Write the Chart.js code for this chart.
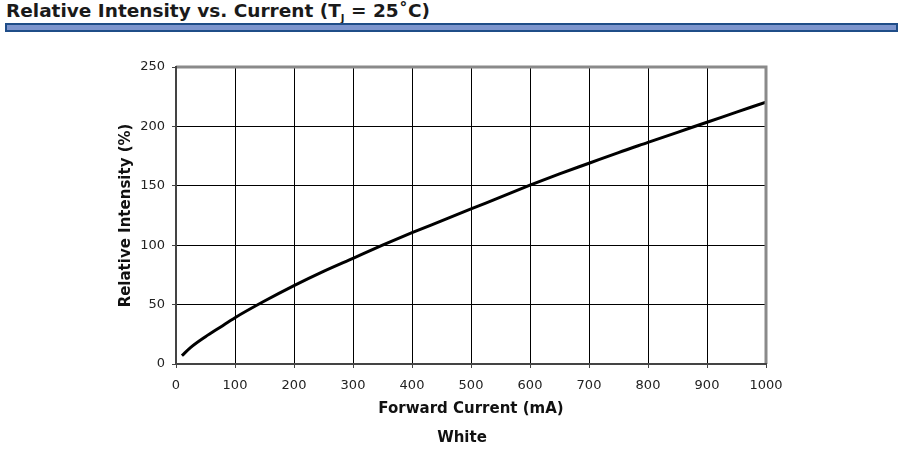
<!DOCTYPE html>
<html lang="en">
<head>
    <meta charset="UTF-8">
    <title>Relative Intensity vs. Current</title>
    <script src="https://cdn.jsdelivr.net/npm/chart.js"></script>
    <style>
        body{margin:0;width:908px;height:460px;background:#fff;position:relative;overflow:hidden;font-family:'DejaVu Sans',Verdana,sans-serif;}
        .title{position:absolute;left:6px;top:0px;font-size:18.5px;font-weight:bold;color:#1a1a1a;white-space:nowrap;}
        .title sub{font-size:10px;}
        .bar{position:absolute;left:5px;top:23px;width:889px;height:5px;background:#7d95cd;border:2px solid #1f4d88;}
        #chart-wrap{position:absolute;left:0;top:0;width:908px;height:460px;}
        .series-name{position:absolute;left:0;width:924px;top:428px;text-align:center;font-size:15px;font-weight:bold;color:#111;}
    </style>
</head>
<body>
    <div class="title">Relative Intensity vs. Current (T<sub>J</sub> = 25&#730;C)</div>
    <div class="bar"></div>
    <div id="chart-wrap"><canvas id="intensity-chart" width="908" height="460"></canvas></div>
    <div class="series-name">White</div>
    <script>
        // values
        const currentMA = [10, 25, 50, 75, 100, 150, 200, 250, 300, 350, 400, 450, 500, 550, 600, 650, 700, 750, 800, 850, 900, 950, 1000];
        const intensityPct = [7, 14, 23, 31, 39, 53, 66, 78, 89, 100, 110.5, 120.5, 130.5, 140.5, 150.5, 160, 169, 178, 186.5, 195, 203.5, 212, 220.5];
        const xTicks = [0, 100, 200, 300, 400, 500, 600, 700, 800, 900, 1000];
        const yTicks = [0, 50, 100, 150, 200, 250];

        const tickFont = { family: "'DejaVu Sans', sans-serif", size: 13 };
        const titleFont = { family: "'DejaVu Sans', sans-serif", size: 15, weight: 'bold' };

        // grey frame round the plot area, dark spines on left/bottom
        const frame = {
            id: 'frame',
            afterDatasetsDraw(chart) {
                const { ctx, chartArea: a } = chart;
                ctx.save();
                ctx.strokeStyle = '#8a8a8a';
                ctx.lineWidth = 3;
                ctx.beginPath();
                ctx.moveTo(a.left, a.top);
                ctx.lineTo(a.right, a.top);
                ctx.lineTo(a.right, a.bottom);
                ctx.stroke();
                ctx.strokeStyle = '#444';
                ctx.lineWidth = 2;
                ctx.beginPath();
                ctx.moveTo(a.left, a.top - 1);
                ctx.lineTo(a.left, a.bottom);
                ctx.lineTo(a.right + 1, a.bottom);
                ctx.stroke();
                ctx.restore();
            }
        };

        new Chart(document.getElementById('intensity-chart'), {
            type: 'line',
            data: {
                datasets: [{
                    label: 'White',
                    data: currentMA.map((c, i) => ({ x: c, y: intensityPct[i] })),
                    borderColor: '#000',
                    borderWidth: 3,
                    pointRadius: 0,
                    fill: false,
                    cubicInterpolationMode: 'monotone'
                }]
            },
            options: {
                responsive: false,
                animation: false,
                layout: { padding: { top: 67, right: 142, left: 113, bottom: 38 } },
                plugins: { legend: { display: false }, tooltip: { enabled: false } },
                scales: {
                    x: {
                        type: 'linear', min: 0, max: 1000,
                        afterBuildTicks: s => { s.ticks = xTicks.map(v => ({ value: v })); },
                        afterFit: s => { s.height = 58; },
                        grid: { color: '#000', lineWidth: 1, tickLength: 4, tickColor: '#444' },
                        border: { display: false },
                        ticks: { color: '#222', font: tickFont, padding: 10, maxRotation: 0, callback: v => String(v) },
                        title: { display: true, text: 'Forward Current (mA)', color: '#111', font: titleFont, padding: { top: 4, bottom: 4 } }
                    },
                    y: {
                        type: 'linear', min: 0, max: 250,
                        afterBuildTicks: s => { s.ticks = yTicks.map(v => ({ value: v })); },
                        afterFit: s => { s.width = 63; },
                        grid: { color: '#000', lineWidth: 1, tickLength: 4, tickColor: '#444' },
                        border: { display: false },
                        ticks: { color: '#222', font: tickFont, padding: 7, callback: v => String(v) },
                        title: { display: true, text: 'Relative Intensity (%)', color: '#111', font: titleFont, padding: { top: 4, bottom: 4 } }
                    }
                }
            },
            plugins: [frame]
        });
    </script>
</body>
</html>
